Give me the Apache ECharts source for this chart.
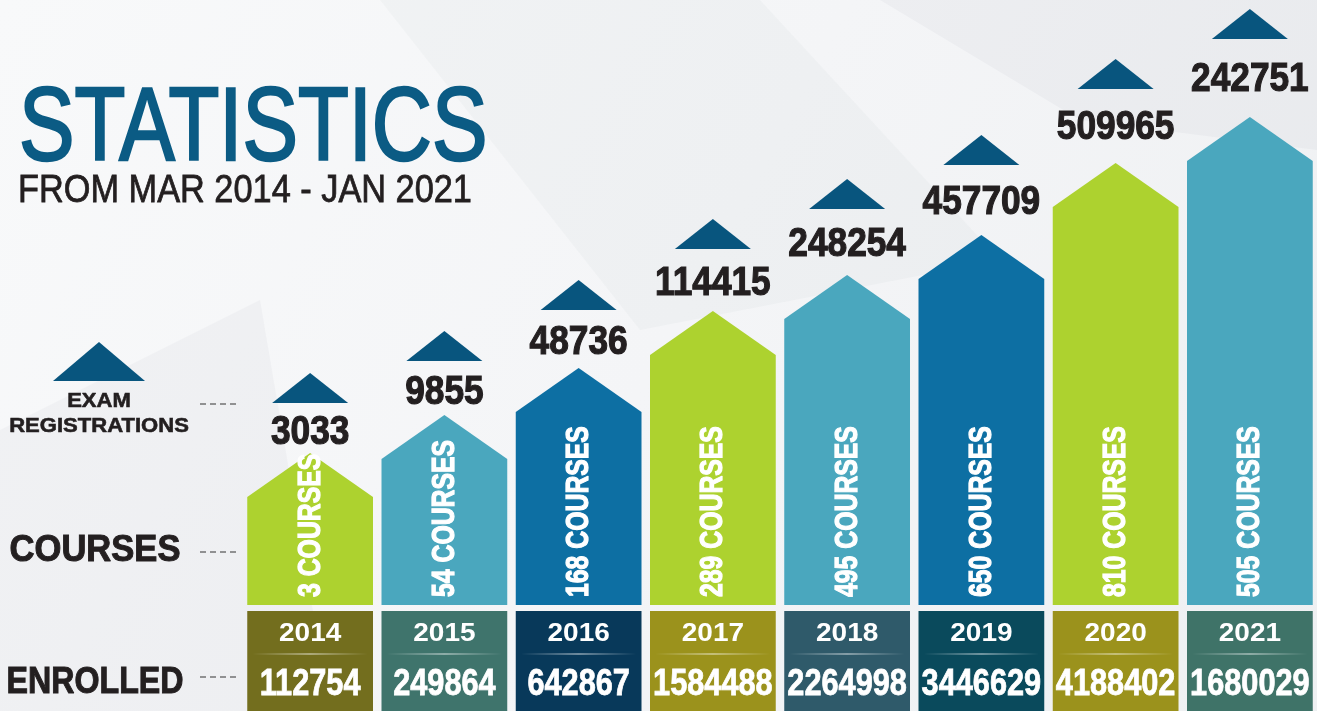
<!DOCTYPE html>
<html>
<head>
<meta charset="utf-8">
<title>Statistics from Mar 2014 - Jan 2021</title>
<script src="https://cdn.jsdelivr.net/npm/echarts@6/dist/echarts.min.js"></script>
<style>
  html, body { margin: 0; padding: 0; background: #f4f5f7; }
  #chart { width: 1317px; height: 711px; }
</style>
</head>
<body>
<div id="chart"></div>
<script>
const years = ['2014', '2015', '2016', '2017', '2018', '2019', '2020', '2021'];
const examRegistrations = [3033, 9855, 48736, 114415, 248254, 457709, 509965, 242751];
const courses = [3, 54, 168, 289, 495, 650, 810, 505];
const enrolled = [112754, 249864, 642867, 1584488, 2264998, 3446629, 4188402, 1680029];
// arrow heights as drawn in the infographic (they only step up, not to scale)
const arrowLevel = [152, 190, 237, 294, 330, 370, 442, 488];

const arrowColors = ['#add22f', '#4aa7be', '#0d6fa3', '#add22f', '#4aa7be', '#0d6fa3', '#add22f', '#4aa7be'];
const boxColors = ['#736e1e', '#3f746c', '#08395a', '#9b921c', '#2f5a6a', '#0a4a5c', '#9b921c', '#3f7368'];
const markColor = '#08557e';
const ink = '#231f20';
const FONT = '"Liberation Sans", Arial, sans-serif';

const chart = echarts.init(document.getElementById('chart'), null, { renderer: 'canvas' });

function renderArrow(params, api) {
  const i = params.dataIndex;
  const base = api.coord([i, 0]);
  const peak = api.coord([i, api.value(1)]);
  const band = api.size([1, 0])[0];
  const half = (band - 8.5) / 2;
  const cx = base[0];
  const roof = half * 0.7;

  const triBase = peak[1] - (50 + 4 * i);
  const numY = peak[1] - (20 + 2.5 * i);

  return {
    type: 'group',
    children: [
      {
        type: 'polygon',
        shape: { points: [[cx - half, base[1]], [cx - half, peak[1] + roof], [cx, peak[1]], [cx + half, peak[1] + roof], [cx + half, base[1]]] },
        style: { fill: arrowColors[i] }
      },
      {
        type: 'text',
        x: cx + 1, y: base[1] - 8, rotation: Math.PI / 2, scaleX: 0.8,
        style: { text: courses[i] + ' COURSES', fill: '#fff', stroke: '#fff', lineWidth: 1.2, font: 'bold 31px ' + FONT, align: 'left', verticalAlign: 'middle' }
      },
      {
        type: 'polygon',
        shape: { points: [[cx - 38, triBase], [cx, triBase - 30], [cx + 38, triBase]] },
        style: { fill: markColor }
      },
      {
        type: 'text',
        x: cx, y: numY, scaleX: 0.86,
        style: { text: String(examRegistrations[i]), fill: ink, stroke: ink, lineWidth: 1.2, font: 'bold 41px ' + FONT, align: 'center', verticalAlign: 'middle' }
      },
      {
        type: 'rect',
        shape: { x: cx - half, y: base[1] + 6, width: half * 2, height: 110 },
        style: { fill: boxColors[i] }
      },
      {
        type: 'line',
        shape: { x1: cx - half + 6, y1: base[1] + 49, x2: cx + half - 6, y2: base[1] + 49 },
        style: {
          lineWidth: 1.5,
          stroke: new echarts.graphic.LinearGradient(0, 0, 1, 0, [
            { offset: 0, color: 'rgba(255,255,255,0)' },
            { offset: 0.5, color: 'rgba(255,255,255,0.55)' },
            { offset: 1, color: 'rgba(255,255,255,0)' }
          ])
        }
      },
      {
        type: 'text',
        x: cx, y: base[1] + 29, scaleX: 1.12,
        style: { text: years[i], fill: '#fff', font: 'bold 25px ' + FONT, align: 'center', verticalAlign: 'middle' }
      },
      {
        type: 'text',
        x: cx, y: base[1] + 80, scaleX: 0.83,
        style: { text: String(enrolled[i]), fill: '#fff', stroke: '#fff', lineWidth: 0.8, font: 'bold 37px ' + FONT, align: 'center', verticalAlign: 'middle' }
      }
    ]
  };
}

function dashes(y) {
  return { type: 'line', shape: { x1: 200, y1: y, x2: 238, y2: y }, style: { stroke: '#333', lineWidth: 1, lineDash: [6, 4] } };
}

function label(text, x, y, size, sx, opts) {
  return {
    type: 'text', x: x, y: y, scaleX: sx,
    style: Object.assign({ text: text, fill: ink, stroke: ink, lineWidth: 0.6, font: 'bold ' + size + 'px ' + FONT, align: 'center', verticalAlign: 'middle' }, opts || {})
  };
}

chart.setOption({
  animation: false,
  graphic: [
    {
      type: 'rect', z: -10, shape: { x: 0, y: 0, width: 1317, height: 711 },
      style: {
        fill: new echarts.graphic.LinearGradient(0, 0, 1, 1, [
          { offset: 0, color: '#f8f9fa' },
          { offset: 0.5, color: '#f4f5f7' },
          { offset: 1, color: '#eef0f2' }
        ])
      }
    },
    { type: 'polygon', z: -9, shape: { points: [[0, 430], [260, 300], [330, 711], [0, 711]] }, style: { fill: 'rgba(110,120,130,0.05)' } },
    { type: 'polygon', z: -9, shape: { points: [[380, 0], [760, 0], [1000, 260], [640, 330]] }, style: { fill: 'rgba(110,120,130,0.04)' } },
    { type: 'polygon', z: -9, shape: { points: [[880, 0], [1317, 0], [1317, 150], [1080, 120]] }, style: { fill: 'rgba(110,120,130,0.05)' } },

    label('STATISTICS', 19, 131, 104, 0.8, { font: '104px ' + FONT, fill: '#0b5b84', stroke: '#0b5b84', lineWidth: 2.5, align: 'left' }),
    label('FROM MAR 2014 - JAN 2021', 18, 191, 39, 0.88, { font: '39px ' + FONT, lineWidth: 0.8, align: 'left' }),

    { type: 'polygon', shape: { points: [[53, 381], [99, 342], [145, 381]] }, style: { fill: markColor } },
    label('EXAM', 99, 401, 21, 1.05),
    label('REGISTRATIONS', 99, 426, 21, 1.05),
    label('COURSES', 95, 551, 36, 0.96, { lineWidth: 1 }),
    label('ENROLLED', 95, 683, 37, 0.87, { lineWidth: 1 }),
    dashes(404),
    dashes(552),
    dashes(677)
  ],
  grid: { left: 243, width: 1076, top: 105, height: 500 },
  xAxis: { type: 'category', data: years, show: false },
  yAxis: { type: 'value', min: 0, max: 500, show: false },
  series: [
    {
      type: 'custom',
      renderItem: renderArrow,
      encode: { x: 0, y: 1 },
      data: arrowLevel.map((v, i) => [i, v])
    }
  ]
});
</script>
</body>
</html>
